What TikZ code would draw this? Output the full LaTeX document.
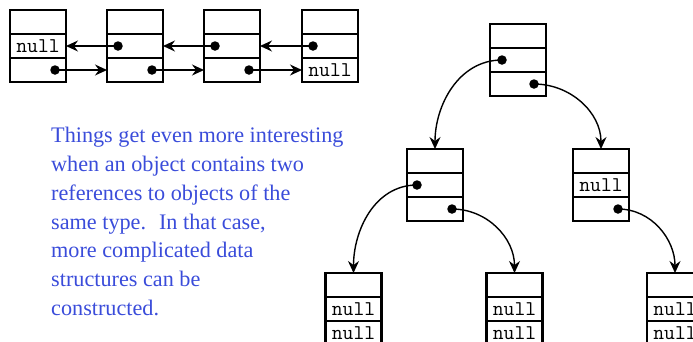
\documentclass[tikz,border=0pt]{standalone}
\usepackage{fontspec}
\setmainfont{Liberation Serif}
\usetikzlibrary{arrows.meta}
\definecolor{txtblue}{RGB}{58,76,218}
\newcommand\objbox[5]{%
  \node[cell] (#1t) at (#2,#3+12) {};
  \node[cell] (#1m) at (#2,#3+36) {#4};
  \node[cell] (#1b) at (#2,#3+60) {#5};
}
\begin{document}
\begin{tikzpicture}[x=1pt,y=-1pt,
  cell/.style={draw, line width=2.9pt, minimum width=56pt, minimum height=24pt,
    inner sep=0pt, outer sep=0pt, font=\fontsize{21}{21}\ttfamily},
  dot/.style={circle, fill, inner sep=0pt, minimum size=9.5pt},
  ptr/.style={line width=1.4pt, -{Stealth[length=12pt,width=11pt,inset=4pt]}}]
\useasboundingbox (0,0) rectangle (693,341);
\clip (0,0) rectangle (693,341);
% doubly linked list
\objbox{A}{38}{10}{null}{}
\objbox{B}{135}{10}{}{}
\objbox{C}{232}{10}{}{}
\objbox{D}{330}{10}{}{null}
\path (Bm.center) ++(-17,0) node[dot] (Bmd) {};
\path (Cm.center) ++(-17,0) node[dot] (Cmd) {};
\path (Dm.center) ++(-17,0) node[dot] (Dmd) {};
\path (Ab.center) ++(17,0) node[dot] (Abd) {};
\path (Bb.center) ++(17,0) node[dot] (Bbd) {};
\path (Cb.center) ++(17,0) node[dot] (Cbd) {};
\draw[ptr] (Bmd.center) -- (Am.east);
\draw[ptr] (Cmd.center) -- (Bm.east);
\draw[ptr] (Dmd.center) -- (Cm.east);
\draw[ptr] (Abd.center) -- (Bb.west);
\draw[ptr] (Bbd.center) -- (Cb.west);
\draw[ptr] (Cbd.center) -- (Db.west);
% tree
\objbox{R}{518}{24}{}{}
\objbox{L}{435}{149}{}{}
\objbox{Q}{601}{149}{null}{}
\objbox{G}{353.5}{273}{null}{null}
\objbox{H}{514.5}{273}{null}{null}
\objbox{K}{675}{273}{null}{null}
\path (Rm.center) ++(-16,0) node[dot] (Rmd) {};
\path (Rb.center) ++(16,0) node[dot] (Rbd) {};
\path (Lm.center) ++(-18,0) node[dot] (Lmd) {};
\path (Lb.center) ++(17,0) node[dot] (Lbd) {};
\path (Qb.center) ++(17,0) node[dot] (Qbd) {};
\draw[ptr] (Rmd.center) to[out=180,in=90] (Lt.north);
\draw[ptr] (Rbd.center) to[out=0,in=90] (Qt.north);
\draw[ptr] (Lmd.center) to[out=180,in=90] (Gt.north);
\draw[ptr] (Lbd.center) to[out=0,in=90] (Ht.north);
\draw[ptr] (Qbd.center) to[out=0,in=90] (Kt.north);
% text
\node[anchor=north west, align=left, inner sep=0pt, text=txtblue,
  font=\fontsize{22.2}{28.8}\selectfont] (txt) at (51,127)
  {Things get even more interesting\\when an object contains two\\references to objects of the\\same type.~ In that case,\\more complicated data\\structures can be\\constructed.};
\end{tikzpicture}
\end{document}
